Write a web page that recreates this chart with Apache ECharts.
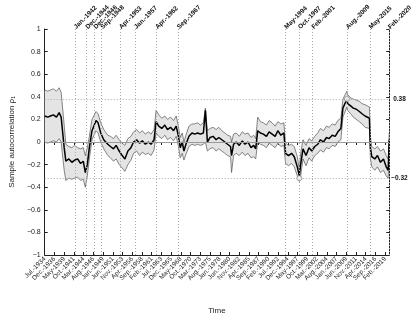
<!DOCTYPE html>
<html>
<head>
<meta charset="utf-8">
<script src="https://cdn.jsdelivr.net/npm/echarts@6/dist/echarts.min.js"></script>
<style>
  html, body { margin: 0; padding: 0; background: #fff; }
  #chart { width: 415px; height: 320px; }
</style>
</head>
<body>
<div id="chart"></div>
<script>
// rolling sample autocorrelation
const dates = [
  "1934-07","1935-04","1935-12","1936-09","1937-06","1938-02","1938-08","1939-05","1939-10","1940-07",
  "1941-04","1941-12","1942-09","1943-06","1944-02","1944-08","1945-02","1945-08","1946-04","1947-04",
  "1947-10","1948-06","1949-03","1950-03","1950-11","1951-08","1952-04","1953-01","1953-10","1954-06",
  "1955-03","1955-12","1956-08","1957-05","1958-02","1958-10","1959-07","1960-04","1960-12","1961-09",
  "1962-03","1962-11","1963-08","1964-05","1965-01","1965-10","1966-07","1967-03","1967-09","1968-03",
  "1968-09","1969-02","1969-08","1970-05","1971-02","1971-10","1972-07","1973-03","1973-12","1974-06",
  "1974-12","1975-08","1976-05","1977-02","1977-10","1978-07","1979-04","1979-12","1980-09","1980-12",
  "1981-06","1982-02","1982-11","1983-08","1984-04","1985-01","1985-10","1986-06","1986-12","1987-06",
  "1988-02","1988-11","1989-08","1990-04","1991-01","1991-10","1992-06","1993-03","1993-12","1994-05",
  "1995-02","1995-11","1996-07","1997-04","1997-10","1998-02","1998-09","1999-06","2000-03","2000-11",
  "2001-08","2002-05","2003-01","2003-10","2004-07","2005-03","2005-12","2006-09","2007-05","2008-02",
  "2008-08","2009-08","2009-10","2010-07","2011-03","2011-12","2012-09","2013-05","2014-02","2015-03",
  "2015-06","2015-10","2016-07","2017-03","2017-12","2018-09","2019-05","2019-11","2020-02"
];
const rhoMid = [
  0.23,0.22,0.23,0.24,0.22,0.26,0.22,-0.05,-0.17,-0.15,
  -0.18,-0.16,-0.15,-0.19,-0.17,-0.27,-0.20,-0.05,0.10,0.19,
  0.17,0.08,0.02,-0.02,-0.04,-0.06,-0.03,-0.08,-0.12,-0.15,
  -0.08,-0.05,0.00,0.02,-0.01,0.01,-0.02,0.00,-0.02,0.02,
  0.18,0.14,0.12,0.15,0.11,0.13,0.10,0.14,0.06,-0.05,
  0.00,-0.08,-0.02,0.05,0.08,0.07,0.08,0.07,0.08,0.28,
  0.00,0.04,0.05,0.02,0.04,0.02,0.00,-0.02,-0.04,-0.12,
  -0.02,0.00,-0.03,0.01,-0.02,0.00,-0.05,-0.03,-0.06,0.10,
  0.08,0.07,0.05,0.09,0.07,0.05,0.10,0.06,0.08,-0.10,
  -0.12,-0.10,-0.13,-0.22,-0.30,-0.20,-0.06,-0.12,-0.05,-0.08,
  -0.04,-0.02,0.02,0.00,0.04,0.03,0.06,0.05,0.09,0.12,
  0.30,0.38,0.34,0.32,0.30,0.29,0.27,0.25,0.23,0.21,
  -0.05,-0.13,-0.15,-0.12,-0.18,-0.15,-0.22,-0.25,0.02
];
const rhoLo = [
  0.00,-0.01,0.00,0.01,0.00,0.03,0.00,-0.25,-0.34,-0.32,
  -0.33,-0.32,-0.31,-0.34,-0.33,-0.40,-0.30,-0.15,0.02,0.10,
  0.08,0.00,-0.06,-0.12,-0.14,-0.17,-0.15,-0.20,-0.23,-0.26,
  -0.20,-0.16,-0.10,-0.08,-0.12,-0.09,-0.11,-0.10,-0.12,-0.07,
  0.08,0.05,0.03,0.06,0.02,0.04,0.01,0.05,-0.03,-0.14,
  -0.10,-0.16,-0.11,-0.04,-0.02,-0.03,-0.02,-0.03,-0.02,0.00,
  -0.08,-0.06,-0.05,-0.08,-0.06,-0.08,-0.10,-0.12,-0.13,-0.27,
  -0.12,-0.10,-0.12,-0.09,-0.12,-0.10,-0.14,-0.13,-0.15,0.00,
  -0.02,-0.03,-0.05,-0.01,-0.03,-0.05,-0.01,-0.04,-0.03,-0.19,
  -0.21,-0.19,-0.22,-0.30,-0.35,-0.30,-0.15,-0.21,-0.14,-0.17,
  -0.12,-0.10,-0.07,-0.09,-0.05,-0.06,-0.03,-0.04,0.00,0.02,
  0.22,0.31,0.28,0.25,0.22,0.20,0.18,0.16,0.13,0.12,
  -0.15,-0.22,-0.25,-0.22,-0.27,-0.25,-0.30,-0.32,-0.05
];
const rhoHi = [
  0.46,0.45,0.46,0.47,0.45,0.48,0.44,0.15,-0.02,-0.04,
  -0.05,-0.03,-0.05,-0.06,-0.05,-0.12,-0.05,0.05,0.20,0.27,
  0.25,0.17,0.11,0.06,0.05,0.03,0.06,0.02,-0.01,-0.03,
  0.03,0.05,0.09,0.11,0.08,0.10,0.07,0.09,0.07,0.11,
  0.28,0.24,0.21,0.23,0.20,0.22,0.19,0.23,0.15,0.04,
  0.08,0.00,0.06,0.14,0.16,0.16,0.17,0.15,0.17,0.30,
  0.10,0.12,0.13,0.11,0.13,0.10,0.08,0.06,0.05,0.00,
  0.07,0.08,0.05,0.09,0.07,0.08,0.04,0.06,0.03,0.22,
  0.18,0.17,0.15,0.19,0.17,0.14,0.18,0.16,0.17,-0.01,
  -0.03,-0.02,-0.04,-0.13,-0.24,-0.10,0.02,-0.03,0.03,0.01,
  0.05,0.08,0.12,0.10,0.14,0.13,0.16,0.15,0.19,0.21,
  0.38,0.45,0.42,0.39,0.38,0.37,0.36,0.34,0.33,0.31,
  0.05,-0.04,-0.06,-0.04,-0.08,-0.06,-0.12,-0.15,0.08
];
// break dates on the top axis
const breakDates = [
  "1942-01","1944-12","1946-12","1948-09","1953-04","1957-01","1962-04","1967-09",
  "1994-05","1997-10","2001-02","2009-08","2015-05","2020-02"
];
// extremes marked with circles
const extremeDates = ["1997-10", "2009-08"];
const extremeValues = [-0.32, 0.38];

const MONTHS = ["Jan.","Feb.","Mar.","Apr.","May","Jun.","Jul.","Aug.","Sep.","Oct.","Nov.","Dec."];
function toIdx(s) {
  const p = s.split("-").map(Number);
  return (p[0] - 1934) * 12 + (p[1] - 1) - 6;
}
function toLabel(i) {
  const k = Math.round(i) + 6;
  return MONTHS[k % 12] + "-" + (1934 + Math.floor(k / 12));
}
function minus(v) {
  return String(Math.round(v * 10) / 10).replace("-", "\u2212");
}

const xs = dates.map(toIdx);
const lo = xs.map((x, i) => [x, rhoLo[i]]);
const hi = xs.map((x, i) => [x, rhoHi[i]]);
const mid = xs.map((x, i) => [x, rhoMid[i]]);
const bandData = xs.map((x, i) => [x, rhoLo[i], rhoHi[i]]);
const extremes = extremeDates.map((d, i) => [toIdx(d), extremeValues[i]]);

const FONT = "Liberation Sans";
const XMAX = toIdx("2020-02");
const dotted = { color: "#aaa", type: [1, 2], width: 1 };

// one polygon between lower and upper bound
function renderBand(params, api) {
  if (params.dataIndex !== 0) return;
  const top = bandData.map((d) => api.coord([d[0], d[2]]));
  const bottom = bandData.map((d) => api.coord([d[0], d[1]])).reverse();
  return {
    type: "polygon",
    shape: { points: top.concat(bottom) },
    style: { fill: "#e4e4e4", stroke: "none" },
  };
}

const chart = echarts.init(document.getElementById("chart"));
chart.setOption({
  animation: false,
  textStyle: { fontFamily: FONT },
  grid: { left: 35, right: 24, top: 29, bottom: 61 },
  xAxis: [
    {
      type: "value",
      min: 0,
      max: XMAX,
      interval: 29,
      position: "bottom",
      name: "Time",
      nameLocation: "middle",
      nameGap: 52,
      nameTextStyle: { fontSize: 8, color: "#222", fontFamily: FONT },
      axisLine: { onZero: false, lineStyle: { color: "#222", width: 1 } },
      axisTick: { inside: true, length: 3, lineStyle: { color: "#222" } },
      axisLabel: {
        rotate: 45,
        fontSize: 6.5,
        color: "#222",
        margin: 3,
        formatter: (v) => toLabel(v),
      },
      splitLine: { show: false },
    },
    {
      type: "value",
      min: 0,
      max: XMAX,
      interval: 29,
      position: "top",
      axisLine: { lineStyle: { color: "#222", width: 1 } },
      axisTick: { inside: true, length: 3, lineStyle: { color: "#222" } },
      axisLabel: {
        rotate: 45,
        fontSize: 6.5,
        fontWeight: "bold",
        color: "#111",
        margin: 1,
        customValues: breakDates.map(toIdx),
        formatter: (v) => toLabel(v),
      },
      splitLine: { show: false },
    },
  ],
  yAxis: [
    {
      type: "value",
      min: -1,
      max: 1,
      interval: 0.2,
      name: "Sample autocorrelation \u03c1\u2081",
      nameLocation: "middle",
      nameGap: 23,
      nameTextStyle: { fontSize: 8, color: "#222", fontFamily: FONT },
      axisLine: { show: true, onZero: false, lineStyle: { color: "#222", width: 1 } },
      axisTick: { show: true, inside: true, length: 3, lineStyle: { color: "#222" } },
      axisLabel: { fontSize: 7, color: "#222", margin: 4, formatter: minus },
      splitLine: { show: false },
    },
    {
      type: "value",
      min: -1,
      max: 1,
      interval: 0.2,
      position: "right",
      axisLine: { show: true, onZero: false, lineStyle: { color: "#222", width: 1 } },
      axisTick: { show: true, inside: true, length: 3, lineStyle: { color: "#222" } },
      axisLabel: { show: false },
      splitLine: { show: false },
    },
  ],
  series: [
    {
      type: "custom",
      data: bandData,
      encode: { x: 0, y: [1, 2] },
      renderItem: renderBand,
      clip: true,
      silent: true,
      z: 2,
      markLine: {
        silent: true,
        symbol: "none",
        lineStyle: dotted,
        label: { show: false },
        data: breakDates.map((d) => ({ xAxis: toIdx(d) })),
      },
    },
    {
      type: "line",
      data: lo,
      symbol: "none",
      lineStyle: { color: "#555", width: 0.7 },
      z: 3,
    },
    {
      type: "line",
      data: hi,
      symbol: "none",
      lineStyle: { color: "#555", width: 0.7 },
      z: 3,
    },
    {
      type: "line",
      data: mid,
      symbol: "none",
      lineStyle: { color: "#000", width: 1.5 },
      z: 4,
      markLine: {
        silent: true,
        symbol: "none",
        data: [
          {
            yAxis: 0,
            lineStyle: { color: "#999", type: "solid", width: 1 },
            label: { show: false },
          },
          {
            yAxis: 0.38,
            lineStyle: dotted,
            label: { show: true, position: "end", formatter: "0.38", fontSize: 6.5, fontWeight: "bold", color: "#111", distance: 4 },
          },
          {
            yAxis: -0.32,
            lineStyle: dotted,
            label: { show: true, position: "end", formatter: "\u22120.32", fontSize: 6.5, fontWeight: "bold", color: "#111", distance: 2 },
          },
        ],
      },
    },
    {
      type: "scatter",
      data: extremes,
      symbol: "circle",
      symbolSize: 5,
      itemStyle: { color: "#fff", borderColor: "#888", borderWidth: 1 },
      z: 5,
    },
  ],
});
</script>
</body>
</html>
